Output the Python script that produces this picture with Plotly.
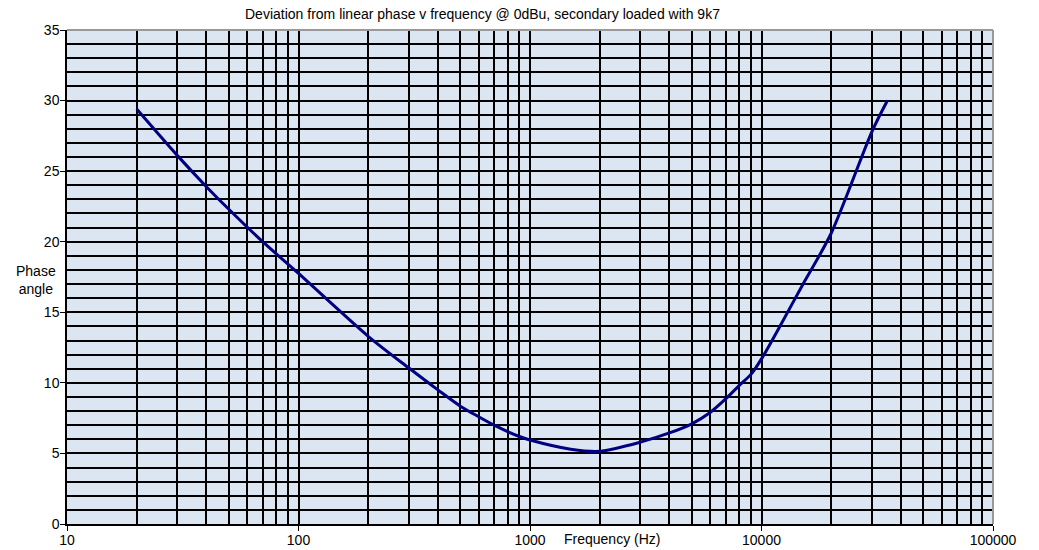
import plotly.graph_objects as go

freq_hz = [20, 30, 40, 50, 70, 100, 200, 300, 400, 500, 600, 700, 800, 900, 1000,
           1500, 2000, 3000, 4000, 5000, 6000, 7000, 8000, 9000, 10000, 12000,
           15000, 20000, 30000, 35000]
phase_deg = [29.4, 26.1, 23.9, 22.3, 20.0, 17.75, 13.3, 11.05, 9.5, 8.35, 7.6, 7.0, 6.55,
             6.2, 5.95, 5.3, 5.15, 5.8, 6.45, 7.1, 7.9, 8.86, 9.8, 10.6, 11.7, 14.0,
             16.9, 20.6, 27.8, 30.0]

x_tick_vals = [10, 100, 1000, 10000, 100000]
x_tick_text = ["10", "100", "1000", "10000", "100000"]
y_tick_vals = [0, 5, 10, 15, 20, 25, 30, 35]

title_text = "Deviation from linear phase v frequency @ 0dBu, secondary loaded with 9k7"
x_title = "Frequency (Hz)"
y_title = "Phase<br>angle"

FONT = "Liberation Sans, Arial, sans-serif"
FS = 14

fig = go.Figure()
fig.add_trace(go.Scatter(
    x=freq_hz, y=phase_deg, mode="lines",
    line=dict(color="#000080", width=3, shape="spline", smoothing=0.8),
    hoverinfo="x+y", showlegend=False,
))

fig.update_layout(
    width=1039, height=560,
    margin=dict(l=67, r=46, t=30, b=31),
    paper_bgcolor="white",
    plot_bgcolor="#DCE6F2",
    font=dict(family=FONT, size=FS, color="black"),
    xaxis=dict(
        type="log", range=[1, 5],
        tickvals=x_tick_vals, ticktext=x_tick_text,
        ticks="outside", ticklen=5, tickwidth=1, tickcolor="black",
        ticklabelstandoff=-3,
        showline=True, linecolor="black", linewidth=1.5,
        showgrid=True, gridcolor="black", gridwidth=1.5,
        minor=dict(dtick="D1", showgrid=True, gridcolor="black", gridwidth=1.5, ticks=""),
        tickfont=dict(size=FS, family=FONT),
        zeroline=False,
    ),
    yaxis=dict(
        range=[0, 35], tickvals=y_tick_vals,
        ticks="outside", ticklen=5, tickwidth=1, tickcolor="black",
        ticklabelstandoff=-2,
        showline=True, linecolor="black", linewidth=1.5,
        showgrid=True, gridcolor="black", gridwidth=1.5,
        minor=dict(dtick=1, showgrid=True, gridcolor="black", gridwidth=1.5, ticks=""),
        tickfont=dict(size=FS, family=FONT),
        zeroline=False,
    ),
    annotations=[
        dict(text=title_text, xref="paper", yref="paper", x=(482 - 67) / 926, y=1,
             yshift=16.5, xanchor="center", yanchor="middle", showarrow=False,
             font=dict(size=FS, family=FONT)),
        dict(text=x_title, xref="paper", yref="paper", x=(612 - 67) / 926, y=0,
             yshift=-15, xanchor="center", yanchor="middle", showarrow=False,
             font=dict(size=FS, family=FONT)),
        dict(text=y_title, xref="paper", yref="paper", x=0, xshift=-31, y=(519 - 277) / 490,
             xanchor="center", yanchor="middle", showarrow=False,
             font=dict(size=FS, family=FONT)),
    ],
    shapes=[
        dict(type="line", xref="x domain", yref="y domain", x0=0, x1=1, y0=1, y1=1,
             line=dict(color="#999999", width=2), layer="above"),
        dict(type="line", xref="x domain", yref="y domain", x0=1, x1=1, y0=0, y1=1,
             line=dict(color="#999999", width=2), layer="above"),
    ],
)

fig.write_html("out.html",
               config={"displayModeBar": False},
               post_script="document.body.style.margin='0';document.body.style.overflow='hidden';")
